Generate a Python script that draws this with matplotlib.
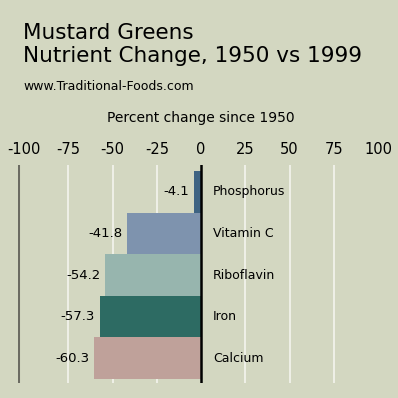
import matplotlib
matplotlib.use("Agg")
import matplotlib.pyplot as plt

nutrients = ["Phosphorus", "Vitamin C", "Riboflavin", "Iron", "Calcium"]
changes = [-4.1, -41.8, -54.2, -57.3, -60.3]
bar_colors = ["#3e6382", "#7e93ae", "#97b5ae", "#2d6b63", "#bfa19a"]
ticks = [-100, -75, -50, -25, 0, 25, 50, 75, 100]

BG = "#d3d7c1"
plt.rcParams["font.family"] = ["DejaVu Sans"]

fig = plt.figure(figsize=(3.98, 3.98), dpi=100, facecolor=BG)
ax = fig.add_axes([18 / 398, 15 / 398, 360 / 398, 218 / 398])
ax.set_facecolor(BG)

xmin = -103.4
for t in ticks:
    if t in (-100, 0, 100):
        continue
    ax.axvline(t, color="#f2f2ea", lw=1.3, zorder=1)
ax.axvline(xmin, color="#6b6b62", lw=2.2, zorder=1)

ypos = list(range(len(nutrients)))
ax.barh(ypos, changes, height=1.0, color=bar_colors, zorder=2)
ax.axvline(0, color="black", lw=1.8, zorder=3)

for y, v, name in zip(ypos, changes, nutrients):
    ax.text(v - 2.5, y, f"{v}", ha="right", va="center", fontsize=9.5, zorder=4)
    ax.text(6.8, y, name, ha="left", va="center", fontsize=9, zorder=4)

ax.set_xlim(xmin, 100)
ax.set_ylim(4.6, -0.65)
ax.xaxis.tick_top()
ax.set_xticks(ticks)
ax.set_xticklabels([str(t) for t in ticks], fontsize=10.5)
ax.tick_params(axis="x", length=0, pad=6)
ax.set_yticks([])
for s in ax.spines.values():
    s.set_visible(False)

fig.text(23 / 398, 1 - 39 / 398, "Mustard Greens", fontsize=15.5,
         ha="left", va="baseline")
fig.text(23 / 398, 1 - 62 / 398, "Nutrient Change, 1950 vs 1999", fontsize=15.5,
         ha="left", va="baseline")
fig.text(23 / 398, 1 - 86 / 398, "www.Traditional-Foods.com", fontsize=9,
         ha="left", va="center")
fig.text(201 / 398, 1 - 118 / 398, "Percent change since 1950", fontsize=10,
         ha="center", va="center")

fig.savefig("out.png", dpi=100, facecolor=BG)
